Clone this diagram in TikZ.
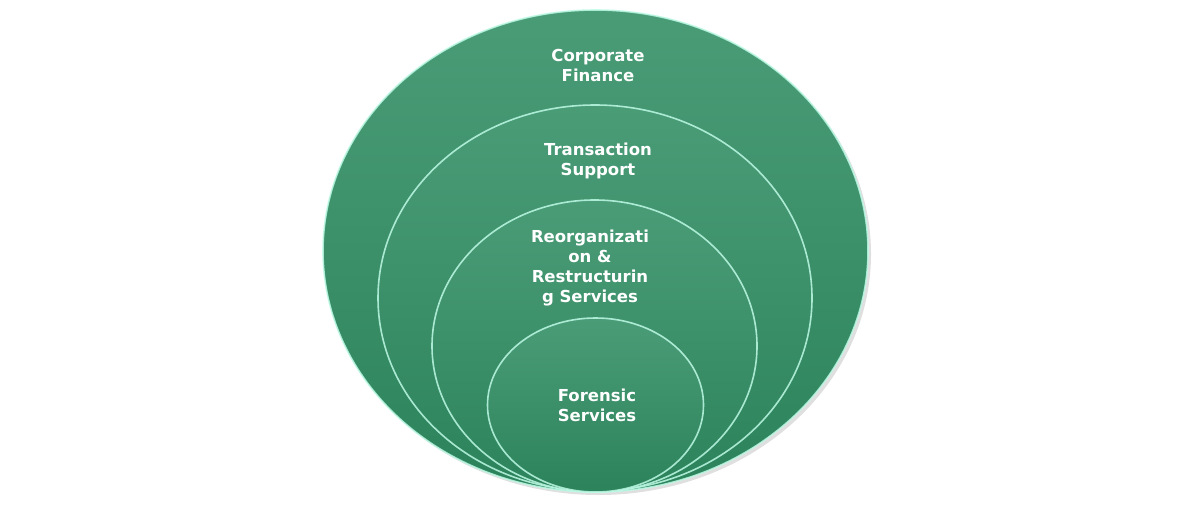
\documentclass[tikz,border=0pt]{standalone}
\usepackage{fontspec}
\setsansfont{DejaVu Sans}
\usepackage{xcolor}
\usetikzlibrary{shapes.geometric,shadows,positioning}
\definecolor{ringtop}{RGB}{74,156,119}
\definecolor{ringbot}{RGB}{44,131,91}
\definecolor{ringedge}{RGB}{190,250,230}
\tikzstyle{ring}=[shape=ellipse,inner sep=0pt,top color=ringtop,bottom color=ringbot,draw=ringedge,draw opacity=0.85,line width=1.6pt]
\tikzstyle{outer ring}=[ring,drop shadow={shadow xshift=3pt,shadow yshift=-3pt,opacity=0.25}]
\tikzstyle{lbl}=[text=white,align=center,font=\sffamily\bfseries\fontsize{16.5}{20}\selectfont]

\begin{document}
\begin{tikzpicture}[x=1pt,y=-1pt]
	\useasboundingbox (0,0) rectangle (1191,508);
	% nested rings, all touching at the bottom
	\node [style=outer ring,minimum width=545pt,minimum height=482pt] (cf) at (595.5, 251) {};
	\node [style=ring,minimum width=434pt,minimum height=386pt] (ts) at (595, 298) {};
	\node [style=ring,minimum width=325pt,minimum height=292pt] (rr) at (594.5, 346) {};
	\node [style=ring,minimum width=216pt,minimum height=174pt] (fs) at (595.5, 405) {};
	% labels
	\node [style=lbl] (cfl) at (598, 65) {Corporate\\Finance};
	\node [style=lbl] (tsl) at (598, 161) {Transaction\\Support};
	\node [style=lbl] (rrl) at (590, 268) {Reorganizati\\on \&\\Restructurin\\g Services};
	\node [style=lbl] (fsl) at (597, 405) {Forensic\\Services};
\end{tikzpicture}
\end{document}
